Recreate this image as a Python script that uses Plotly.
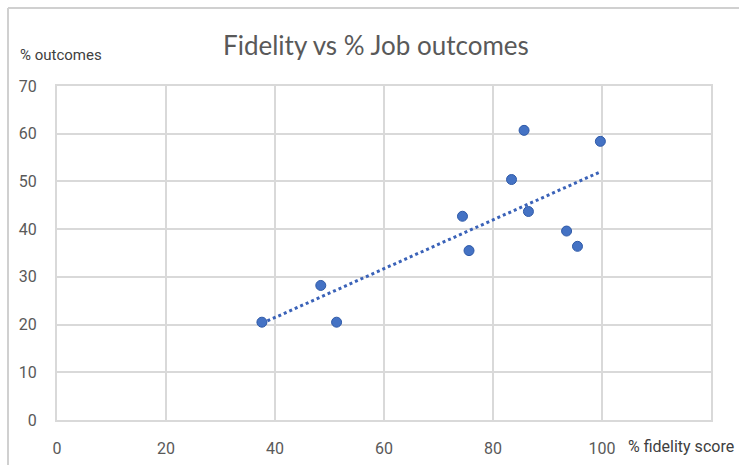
import numpy as np
import plotly.graph_objects as go

fidelity = [37.6, 48.4, 51.3, 74.4, 75.6, 83.4, 85.7, 86.5, 93.5, 95.5, 99.7]
outcomes = [20.5, 28.2, 20.5, 42.7, 35.5, 50.4, 60.7, 43.7, 39.6, 36.4, 58.4]
x_ticks = [0, 20, 40, 60, 80, 100]
y_ticks = [0, 10, 20, 30, 40, 50, 60, 70]

title_text = "Fidelity vs % Job outcomes"
y_title = "% outcomes"
x_title = "% fidelity score"

# linear trendline (least squares) over the data's x span
slope, intercept = np.polyfit(fidelity, outcomes, 1)
tx = [min(fidelity), max(fidelity)]
ty = [slope * v + intercept for v in tx]

fig = go.Figure()
fig.add_trace(go.Scatter(
    x=tx, y=ty, mode="lines",
    line=dict(color="#3a62b8", width=3, dash="dot"),
    hoverinfo="skip", showlegend=False,
))
fig.add_trace(go.Scatter(
    x=fidelity, y=outcomes, mode="markers",
    marker=dict(color="#4472C4", size=10, line=dict(color="#2f5aa8", width=1)),
    showlegend=False,
))

L, R, T, B = 57, 28, 86, 45
W, H = 739, 465
pw, ph = W - L - R, H - T - B

def px(xp):
    return (xp - L) / pw

def py(yp):
    return (H - B - yp) / ph

grid = "#d9d9d9"
fig.update_layout(
    width=W, height=H,
    margin=dict(l=L, r=R, t=T, b=B),
    paper_bgcolor="white", plot_bgcolor="white",
    font=dict(family="Roboto, Liberation Sans, sans-serif", color="#595959"),
    xaxis=dict(
        range=[0, 120], tickvals=x_ticks, ticktext=[str(v) for v in x_ticks],
        showgrid=True, gridcolor=grid, gridwidth=2,
        showline=True, linecolor=grid, linewidth=2, mirror=True,
        zeroline=False, ticks="", tickfont=dict(size=16, color="#595959"),
        ticklabelstandoff=13, automargin=False,
    ),
    yaxis=dict(
        range=[0, 70], tickvals=y_ticks, ticktext=[str(v) for v in y_ticks],
        showgrid=True, gridcolor=grid, gridwidth=2,
        showline=True, linecolor=grid, linewidth=2, mirror=True,
        zeroline=False, ticks="", tickfont=dict(size=16, color="#595959"),
        ticklabelstandoff=15, automargin=False,
    ),
    annotations=[
        dict(text=title_text, xref="paper", yref="paper", x=px(376), y=py(45),
             xanchor="center", yanchor="middle", showarrow=False,
             font=dict(family="Lato, sans-serif", size=26, color="#595959")),
        dict(text=y_title, xref="paper", yref="paper", x=px(18), y=py(55),
             xanchor="left", yanchor="middle", showarrow=False,
             font=dict(family="Roboto, sans-serif", size=15, color="#404040")),
        dict(text=x_title, xref="paper", yref="paper", x=px(736), y=py(446),
             xanchor="right", yanchor="middle", showarrow=False,
             font=dict(family="Roboto, sans-serif", size=16, color="#404040")),
    ],
    shapes=[
        dict(type="line", xref="paper", yref="paper", x0=px(8), x1=px(8),
             y0=py(8), y1=py(470), layer="above",
             line=dict(color="#d0d0d0", width=2)),
        dict(type="line", xref="paper", yref="paper", x0=px(8), x1=px(745),
             y0=py(8), y1=py(8), layer="above",
             line=dict(color="#d0d0d0", width=2)),
    ],
)

fig.write_html(
    "out.html",
    config={"displayModeBar": False},
    post_script="document.body.style.margin='0';document.body.style.overflow='hidden';",
)
